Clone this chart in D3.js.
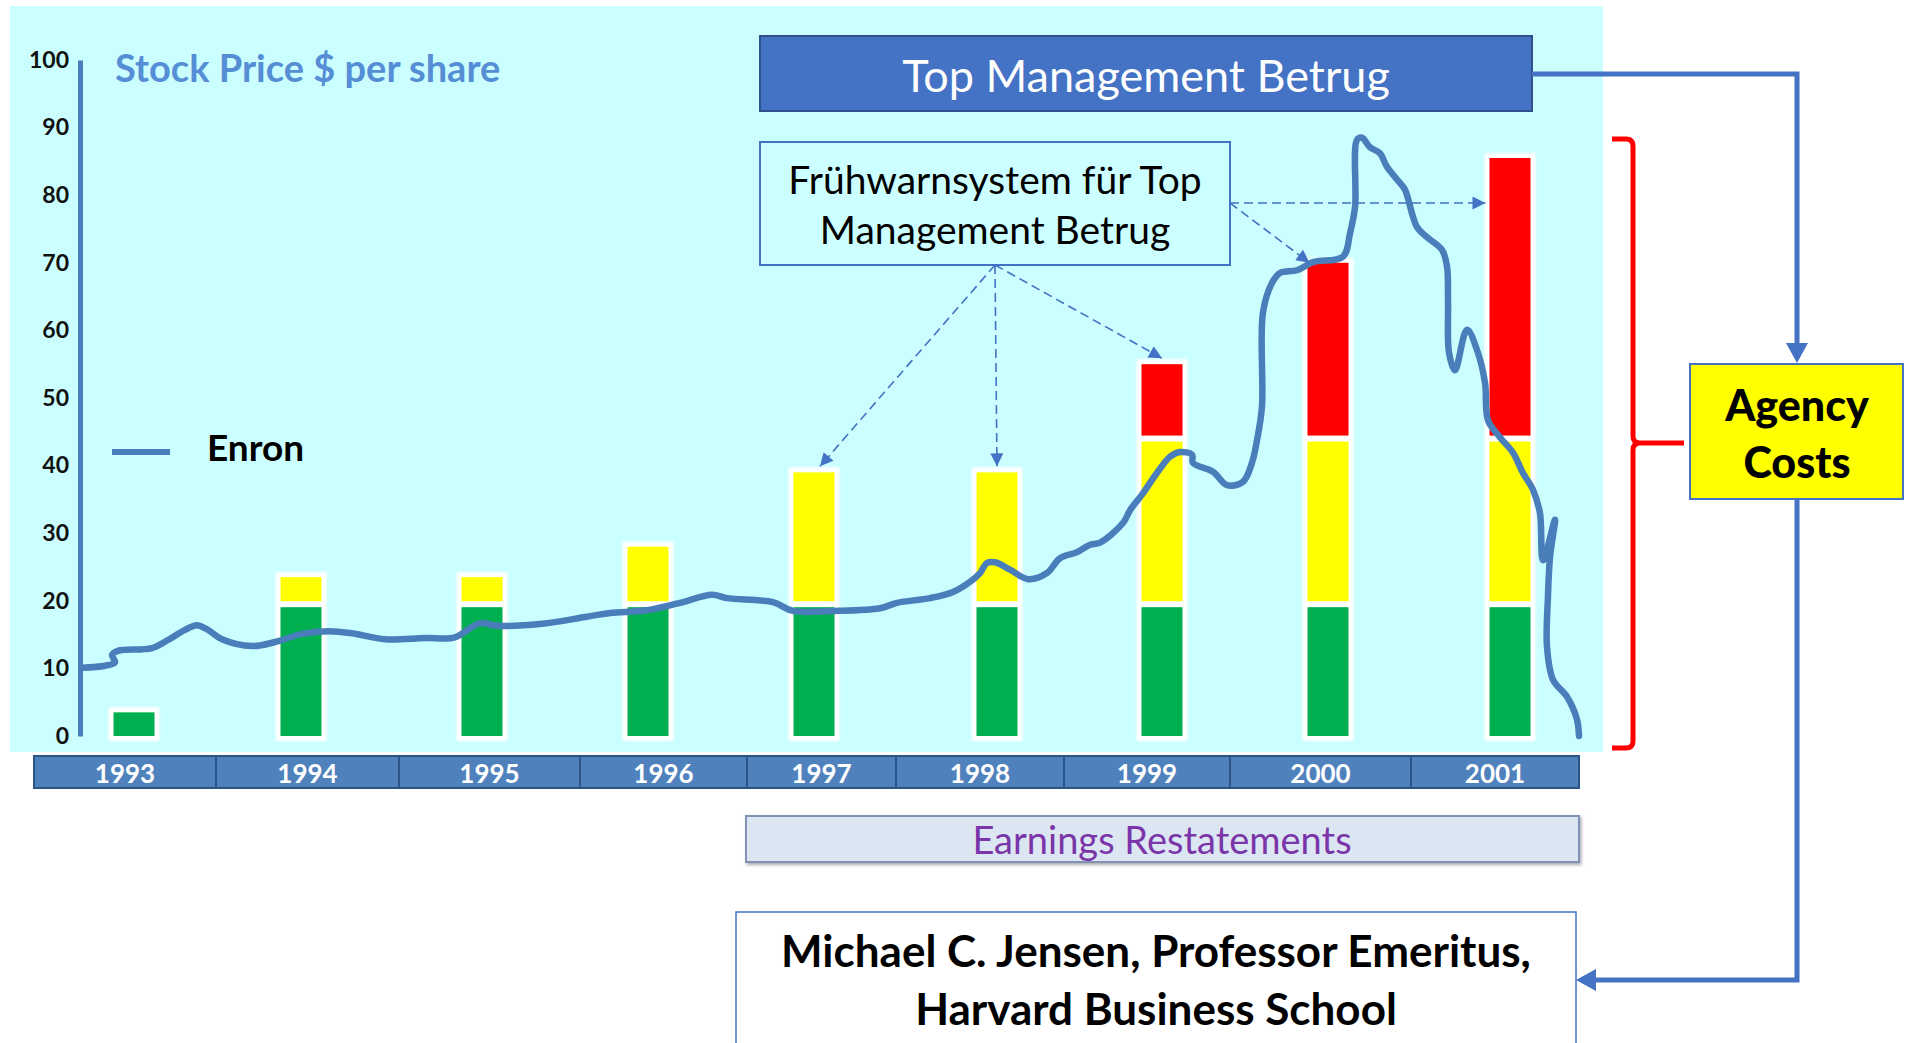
<!DOCTYPE html>
<html><head><meta charset="utf-8">
<script src="https://cdn.jsdelivr.net/npm/d3@7"></script>
<style>html,body{margin:0;padding:0;background:#fff;overflow:hidden}</style>
</head><body>
<svg id="chart" width="1907" height="1043"></svg>
<script>
// ---------------- DATA ----------------
const years = [1993,1994,1995,1996,1997,1998,1999,2000,2001];
const greenVals  = [3.5,19.5,19.5,19.5,19.5,19.5,19.5,19.5,19.5];
const yellowVals = [0,4,4,8.5,19.5,19.5,24.5,24.5,24.5];
const redVals    = [0,0,0,0,0,0,11,26,41.5];
const yTicks = [0,10,20,30,40,50,60,70,80,90,100];
const yearLabels = ["1993","1994","1995","1996","1997","1998","1999","2000","2001"];
const warnYears = [1997,1998,1999,2000,2001];

// Enron share price (time in chart-year units, price in $)
const stockT = [1993.240,1993.355,1993.405,1993.390,1993.420,1993.610,1993.707,1993.811,1993.884,1993.951,
1994.035,1994.212,1994.347,1994.505,1994.638,1994.760,1994.929,1995.157,1995.337,1995.458,
1995.500,1995.582,1995.806,1996.037,1996.221,1996.493,1996.662,1996.823,1996.899,1997.194,
1997.343,1997.616,1997.902,1998.005,1998.168,1998.282,1998.366,1998.416,1998.450,1998.490,
1998.597,1998.731,1998.873,1998.970,1999.066,1999.133,1999.184,1999.301,1999.337,1999.398,
1999.474,1999.559,1999.632,1999.721,1999.728,1999.875,1999.978,2000.066,2000.112,2000.138,
2000.163,2000.168,2000.214,2000.255,2000.342,2000.423,2000.590,2000.633,2000.663,2000.675,
2000.705,2000.753,2000.813,2000.855,2000.934,2000.964,2001.030,2001.081,2001.157,2001.182,
2001.187,2001.192,2001.222,2001.283,2001.338,2001.374,2001.389,2001.449,2001.522,2001.594,
2001.667,2001.717,2001.739,2001.826,2001.790,2001.775,2001.768,2001.812,2001.913,2001.986,
2002.000];
const stockPrice = [10.1,10.4,10.9,12.0,12.6,13.0,14.2,15.7,16.4,15.7,
14.3,13.3,13.9,15.1,15.5,15.2,14.3,14.5,14.6,16.4,
16.7,16.3,16.6,17.6,18.2,18.6,19.7,20.9,20.4,19.8,
18.5,18.5,18.9,19.7,20.4,21.3,22.8,24.1,25.6,25.7,
24.6,23.2,24.1,26.3,27.2,28.3,28.6,31.5,33.4,35.7,
38.9,41.3,42.0,41.6,40.4,39.1,37.1,37.6,40.4,43.8,
48.7,62.6,67.0,68.5,68.9,70.1,70.9,74.4,78.3,88.2,
88.5,87.1,86.2,84.2,81.8,80.8,75.3,73.8,71.9,69.4,
64.1,56.7,54.1,60.1,56.7,52.2,46.7,44.2,41.9,38.9,
36.4,33.0,26.0,32.0,26.5,20.6,13.2,8.3,5.8,2.4,
0];

// ---------------- LAYOUT ----------------
const FONT = "Lato, 'Open Sans', sans-serif";
const BLUE = "#4472C4", LINEBLUE = "#4A7EBB";
const svg = d3.select("#chart");

// non-uniform hand-drawn time axis: cell edges at whole years, bar centres at half years
const xPx = [34,134,216,301,399,482,580,648,747,814,896,997,1064,1162,1230,1328,1411,1510,1579];
const x = d3.scaleLinear().domain(xPx.map((_, i) => 1993 + i / 2)).range(xPx);
const y = d3.scaleLinear().domain([0, 100]).range([736, 60]);

const defs = svg.append("defs");
defs.append("filter").attr("id", "soft").attr("x", "-20%").attr("y", "-20%").attr("width", "140%").attr("height", "140%")
  .append("feGaussianBlur").attr("stdDeviation", 1.2);
defs.append("marker").attr("id", "dashHead").attr("viewBox", "0 0 10 10")
  .attr("refX", 10).attr("refY", 5).attr("markerWidth", 15).attr("markerHeight", 13)
  .attr("markerUnits", "userSpaceOnUse").attr("orient", "auto")
  .append("path").attr("d", "M0,0L10,5L0,10z").attr("fill", BLUE);
const sh = defs.append("filter").attr("id", "shadow").attr("x", "-5%").attr("y", "-20%").attr("width", "110%").attr("height", "150%");
sh.append("feDropShadow").attr("dx", 1.5).attr("dy", 2).attr("stdDeviation", 1.5).attr("flood-color", "#556").attr("flood-opacity", 0.5);

// cyan plot panel
svg.append("rect").attr("x", 10).attr("y", 6).attr("width", 1593).attr("height", 746).attr("fill", "#CBFEFE");

// ---- bars ----
const barW = 41;
const stacks = years.map((yr, i) => {
  const segs = []; let acc = 0;
  [["#00B050", greenVals[i]], ["#FFFF00", yellowVals[i]], ["#FF0000", redVals[i]]].forEach(([c, v]) => {
    if (v > 0) { segs.push({ c, v0: acc, v1: acc + v }); acc += v; }
  });
  return { yr, segs, total: acc };
});
const gBars = svg.append("g");
gBars.selectAll("rect.halo").data(stacks).join("rect").attr("class", "halo")
  .attr("x", d => x(d.yr + 0.5) - barW / 2 - 5).attr("y", d => y(d.total) - 5)
  .attr("width", barW + 10).attr("height", d => y(0) - y(d.total) + 10)
  .attr("fill", "#fff").attr("filter", "url(#soft)");
stacks.forEach(s => {
  s.segs.forEach((seg, j) => {
    const top = y(seg.v1) + (j === s.segs.length - 1 ? 0 : 3);
    const bot = y(seg.v0) - (j === 0 ? 0 : 3);
    gBars.append("rect").attr("x", x(s.yr + 0.5) - barW / 2).attr("y", top)
      .attr("width", barW).attr("height", bot - top).attr("fill", seg.c);
  });
});

// ---- y axis ----
const gy = svg.append("g").attr("transform", "translate(80,0)")
  .call(d3.axisLeft(y).tickValues(yTicks).tickSize(0).tickSizeOuter(0).tickPadding(11));
gy.select(".domain").attr("stroke", LINEBLUE).attr("stroke-width", 5);
gy.selectAll("text").attr("font-family", FONT).attr("font-weight", 700).attr("font-size", 23).attr("fill", "#111");

// ---- stock line ----
const stock = stockT.map((t, i) => [t, stockPrice[i]]);
svg.append("path").datum(stock)
  .attr("d", d3.line().x(d => x(d[0])).y(d => y(d[1])).curve(d3.curveCatmullRom.alpha(0.5)))
  .attr("fill", "none").attr("stroke", LINEBLUE).attr("stroke-width", 6.5)
  .attr("stroke-linejoin", "round").attr("stroke-linecap", "round");

// title & legend
svg.append("text").attr("x", 115).attr("y", 67).attr("dominant-baseline", "central")
  .attr("font-family", FONT).attr("font-weight", 700).attr("font-size", 38).attr("fill", "#558ED5")
  .text("Stock Price $ per share");
svg.append("line").attr("x1", 112).attr("x2", 170).attr("y1", 452).attr("y2", 452)
  .attr("stroke", LINEBLUE).attr("stroke-width", 6);
svg.append("text").attr("x", 207).attr("y", 446).attr("dominant-baseline", "central")
  .attr("font-family", FONT).attr("font-weight", 700).attr("font-size", 37).attr("fill", "#000")
  .text("Enron");

// ---- year band ----
const gx = svg.append("g");
gx.selectAll("rect").data(years).join("rect")
  .attr("x", d => x(d)).attr("y", 756).attr("width", d => x(d + 1) - x(d)).attr("height", 32)
  .attr("fill", "#4F81BD").attr("stroke", "#2C5487").attr("stroke-width", 2);
gx.selectAll("text").data(years).join("text")
  .attr("x", d => (x(d) + x(d + 1)) / 2).attr("y", 773).attr("text-anchor", "middle").attr("dominant-baseline", "central")
  .attr("font-family", FONT).attr("font-weight", 700).attr("font-size", 26).attr("fill", "#fff")
  .text((d, i) => yearLabels[i]);

// ---- Top Management box ----
svg.append("rect").attr("x", 760).attr("y", 36).attr("width", 772).attr("height", 75)
  .attr("fill", BLUE).attr("stroke", "#2F528F").attr("stroke-width", 2);
svg.append("text").attr("x", 1146).attr("y", 75).attr("text-anchor", "middle").attr("dominant-baseline", "central")
  .attr("font-family", FONT).attr("font-size", 45).attr("fill", "#fff").text("Top Management Betrug");

// ---- Frühwarnsystem box ----
svg.append("rect").attr("x", 760).attr("y", 142).attr("width", 470).attr("height", 123)
  .attr("fill", "#CCFFFF").attr("stroke", BLUE).attr("stroke-width", 2);
[["Frühwarnsystem für Top", 179], ["Management Betrug", 229]].forEach(([t, yy]) => {
  svg.append("text").attr("x", 995).attr("y", yy).attr("text-anchor", "middle").attr("dominant-baseline", "central")
    .attr("font-family", FONT).attr("font-size", 39).attr("fill", "#000").text(t);
});

// dashed arrows to the warning bars
const stackBy = new Map(stacks.map(s => [s.yr, s]));
const arrows = warnYears.map(yr => {
  const s = stackBy.get(yr), cx = x(yr + 0.5), top = y(s.total);
  if (yr <= 1999) return { x1: 995, y1: 265, x2: cx + (yr === 1997 ? 6 : 0), y2: top - 6 };
  if (yr === 2000) return { x1: 1230, y1: 203, x2: cx - barW / 2 + 2, y2: top };
  return { x1: 1230, y1: 203, x2: cx - barW / 2 - 4, y2: 203 };
});
svg.append("g").selectAll("line").data(arrows).join("line")
  .attr("x1", d => d.x1).attr("y1", d => d.y1).attr("x2", d => d.x2).attr("y2", d => d.y2)
  .attr("stroke", BLUE).attr("stroke-width", 1.6).attr("stroke-dasharray", "9,5")
  .attr("marker-end", "url(#dashHead)");

// ---- Agency costs box + connectors ----
svg.append("path").attr("d", "M1532,74H1797V346").attr("fill", "none").attr("stroke", BLUE).attr("stroke-width", 5);
svg.append("path").attr("d", "M1786,343L1808,343L1797,363Z").attr("fill", BLUE);
svg.append("path").attr("d", "M1797,499V980H1592").attr("fill", "none").attr("stroke", BLUE).attr("stroke-width", 5);
svg.append("path").attr("d", "M1596,969L1596,991L1576,980Z").attr("fill", BLUE);

svg.append("rect").attr("x", 1690).attr("y", 364).attr("width", 213).attr("height", 135)
  .attr("fill", "#FFFF00").attr("stroke", BLUE).attr("stroke-width", 2);
[["Agency", 404], ["Costs", 461]].forEach(([t, yy]) => {
  svg.append("text").attr("x", 1797).attr("y", yy).attr("text-anchor", "middle").attr("dominant-baseline", "central")
    .attr("font-family", FONT).attr("font-weight", 900).attr("font-size", 43).attr("fill", "#000").text(t);
});

// red brace
svg.append("path")
  .attr("d", "M1612,139H1626Q1633,139 1633,146V436Q1633,443 1640,443H1684M1640,443Q1633,443 1633,450V741Q1633,748 1626,748H1612")
  .attr("fill", "none").attr("stroke", "#FF0000").attr("stroke-width", 5);

// ---- Earnings Restatements ----
svg.append("rect").attr("x", 746).attr("y", 816).attr("width", 833).attr("height", 46)
  .attr("fill", "#DCE6F2").attr("stroke", "#7F93B2").attr("stroke-width", 2).attr("filter", "url(#shadow)");
svg.append("text").attr("x", 1162).attr("y", 839).attr("text-anchor", "middle").attr("dominant-baseline", "central")
  .attr("font-family", FONT).attr("font-size", 38).attr("fill", "#7A35A8").text("Earnings Restatements");

// ---- Jensen box ----
svg.append("rect").attr("x", 736).attr("y", 912).attr("width", 840).attr("height", 150)
  .attr("fill", "#fff").attr("stroke", BLUE).attr("stroke-width", 1.5);
[["Michael C. Jensen, Professor Emeritus,", 950], ["Harvard Business School", 1008]].forEach(([t, yy]) => {
  svg.append("text").attr("x", 1156).attr("y", yy).attr("text-anchor", "middle").attr("dominant-baseline", "central")
    .attr("font-family", FONT).attr("font-weight", 700).attr("font-size", 44).attr("fill", "#000").text(t);
});
</script>
</body></html>
